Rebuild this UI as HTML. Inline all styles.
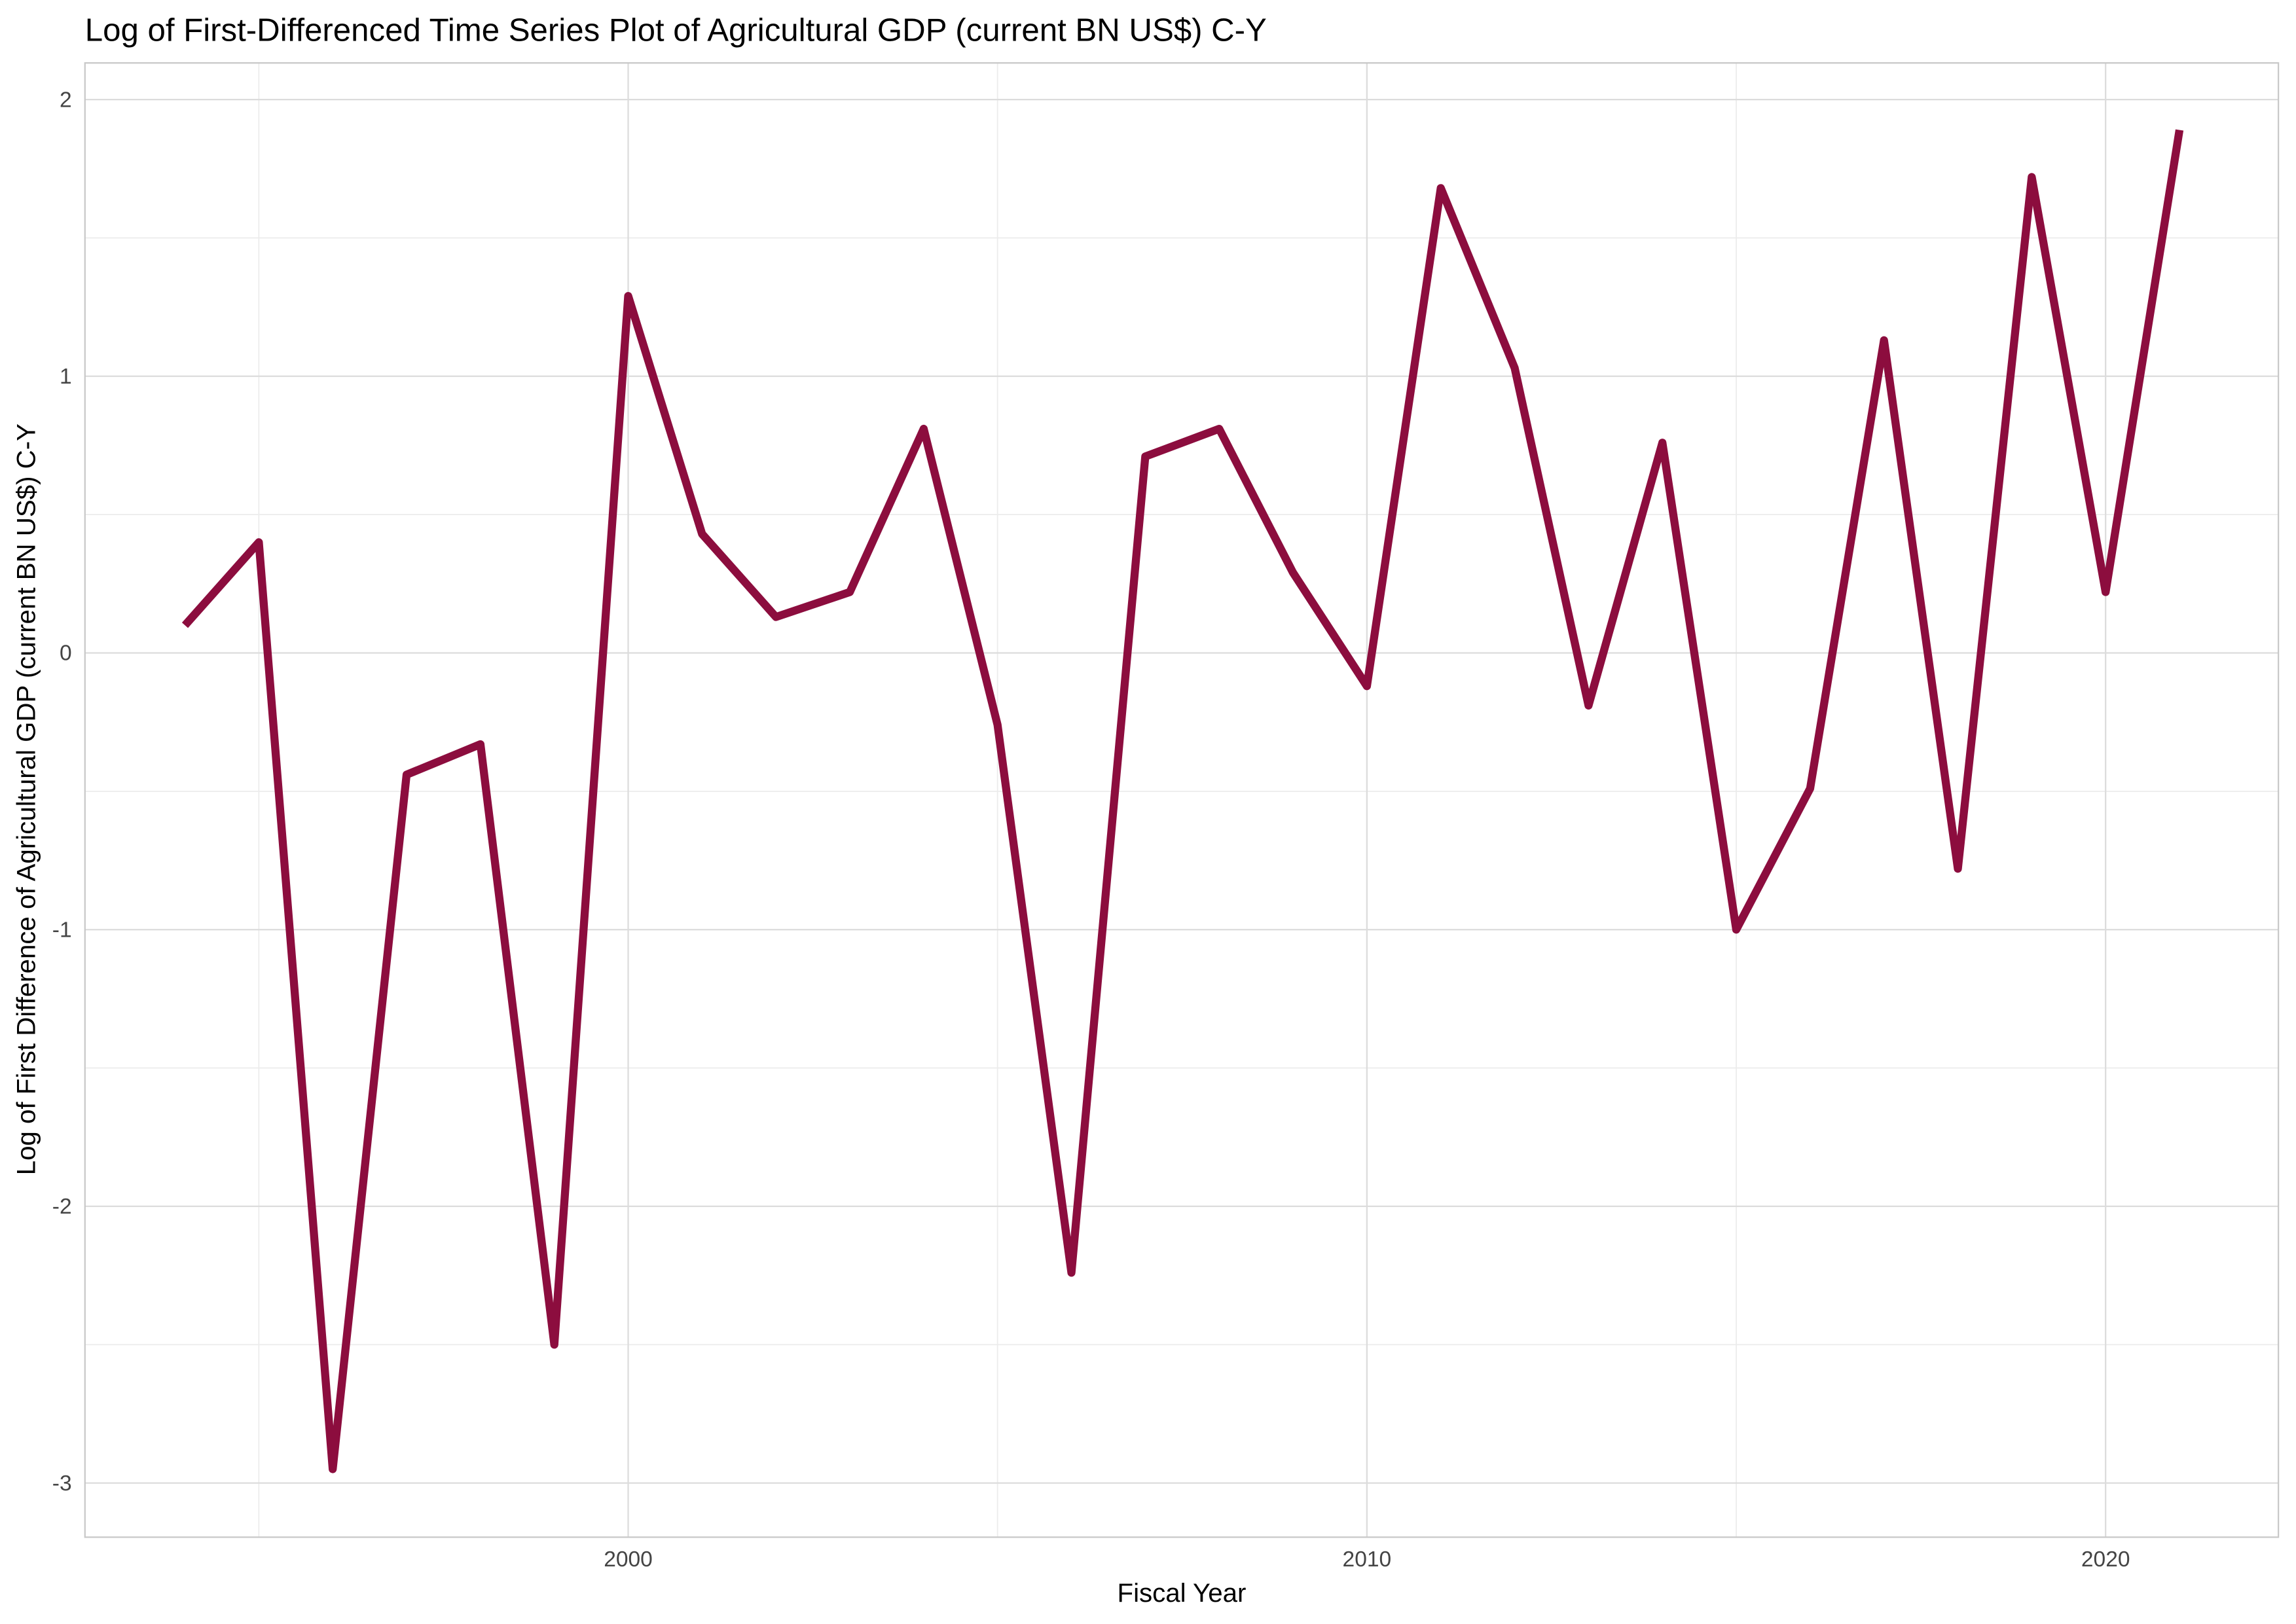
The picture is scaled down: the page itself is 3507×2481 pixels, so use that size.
<!DOCTYPE html>
<html><head><meta charset="utf-8"><style>
html,body{margin:0;padding:0;background:#fff;}
svg{display:block;font-family:"Liberation Sans",Arial,sans-serif;}
</style></head><body>
<svg id="chart" width="3507" height="2481" viewBox="0 0 1568 1109.3" xmlns="http://www.w3.org/2000/svg">
<rect x="0" y="0" width="1568" height="1109.3" fill="#fff"/>
<text x="58" y="28" font-size="22" fill="#000">Log of First-Differenced Time Series Plot of Agricultural GDP (current BN US$) C-Y</text>
<g id="grid"></g>
<rect x="58" y="43" width="1498" height="1007" fill="none" stroke="#c8c8c8" stroke-width="1"/>
<g id="yticks"></g>
<g id="xticks"></g>
<path id="line" fill="none" stroke="#8c0d3e" stroke-width="5.5" stroke-linejoin="round"/>
<text x="807" y="1094" font-size="18" text-anchor="middle" fill="#000">Fiscal Year</text>
<text transform="translate(24,546) rotate(-90)" font-size="18" text-anchor="middle" fill="#000">Log of First Difference of Agricultural GDP (current BN US$) C-Y</text>
</svg>
<script>
const years=[1994,1995,1996,1997,1998,1999,2000,2001,2002,2003,2004,2005,2006,2007,2008,2009,2010,2011,2012,2013,2014,2015,2016,2017,2018,2019,2020,2021];
const values=[0.10,0.40,-2.95,-0.44,-0.33,-2.50,1.29,0.43,0.13,0.22,0.81,-0.26,-2.24,0.71,0.81,0.29,-0.12,1.68,1.03,-0.19,0.76,-1.00,-0.49,1.13,-0.78,1.72,0.22,1.89];
const yTicks=[2,1,0,-1,-2,-3];
const yMinor=[1.5,0.5,-0.5,-1.5,-2.5];
const xTicks=[2000,2010,2020];
const xMinor=[1995,2005,2015];
const ns="http://www.w3.org/2000/svg";
function sx(v){return 429+(v-2000)*50.45;}
function sy(v){return 446-v*189;}
const grid=document.getElementById('grid'),yg=document.getElementById('yticks'),xg=document.getElementById('xticks');
function ln(g,x1,y1,x2,y2,c,w){const l=document.createElementNS(ns,'line');l.setAttribute('x1',x1);l.setAttribute('y1',y1);l.setAttribute('x2',x2);l.setAttribute('y2',y2);l.setAttribute('stroke',c);l.setAttribute('stroke-width',w);g.appendChild(l);return l;}
yMinor.forEach(v=>{const l=ln(grid,58,sy(v),1556,sy(v),'#ececec',0.8);

});
xMinor.forEach(v=>{const l=ln(grid,sx(v),43,sx(v),1050,'#ececec',0.8);

});
yTicks.forEach(v=>{const l=ln(grid,58,sy(v),1556,sy(v),'#dcdcdc',1);


const t=document.createElementNS(ns,'text');t.setAttribute('x',49);t.setAttribute('y',sy(v)+5);t.setAttribute('font-size',15);t.setAttribute('text-anchor','end');t.setAttribute('fill','#444');t.textContent=v;


yg.appendChild(t);});
xTicks.forEach(v=>{const l=ln(grid,sx(v),43,sx(v),1050,'#dcdcdc',1);


const t=document.createElementNS(ns,'text');t.setAttribute('x',sx(v));t.setAttribute('y',1070);t.setAttribute('font-size',15);t.setAttribute('text-anchor','middle');t.setAttribute('fill','#444');t.textContent=v;


xg.appendChild(t);});
document.getElementById('line').setAttribute('d',years.map((y,i)=>(i?'L':'M')+sx(y).toFixed(2)+','+sy(values[i]).toFixed(2)).join(' '));
</script>
</body></html>
